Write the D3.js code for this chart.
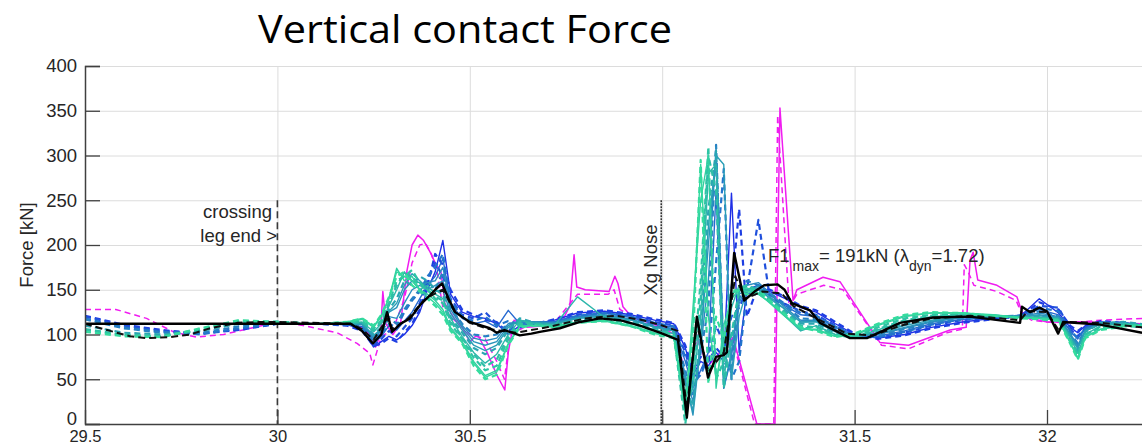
<!DOCTYPE html>
<html>
<head>
<meta charset="utf-8">
<script src="https://cdn.jsdelivr.net/npm/d3@7"></script>
<style>
  html, body { margin: 0; padding: 0; background: #fff; }
  svg { display: block; }
  text { font-family: "Liberation Sans", Arial, sans-serif; fill: #262626; }
</style>
</head>
<body>
<svg id="chart" width="1142" height="448"></svg>
<script>
// ---- axis ticks ----
const xTicks = [29.5, 30, 30.5, 31, 31.5, 32];
const yTicks = [0, 50, 100, 150, 200, 250, 300, 350, 400];

// ---- shared position grid for the simulation runs [m] ----
const xGrid = [
  29.50, 29.60, 29.70, 29.80, 29.90, 30.00,
  30.10, 30.18, 30.22,
  30.25, 30.27, 30.29, 30.31, 30.33, 30.35, 30.37, 30.39, 30.41, 30.43, 30.45,
  30.48, 30.51, 30.54, 30.57, 30.60, 30.63, 30.67,
  30.72, 30.78, 30.85, 30.92, 30.98, 31.03,
  31.06, 31.08, 31.10, 31.12, 31.14, 31.16, 31.18, 31.20, 31.22, 31.25, 31.28, 31.32, 31.36,
  31.40, 31.45, 31.50, 31.56, 31.63, 31.70, 31.78, 31.86, 31.93, 31.98, 32.03, 32.06, 32.08, 32.10, 32.14, 32.20, 32.26
];

// ---- simulation runs, vertical force [kN], ordered blue -> green ----
const run01 = [112,112,112,112,112,112, 112,111,106,
  86,92,98,94,100,110,125,150,170,205,145, 125,120,118,112,100,110,112,
  116,124,126,122,116,112, 85,55,70,65,80,70,258,80,150,155,148,140,130,
  125,112,100,96,100,108,114,118,120,140,124,108,102,110,114,112,108];
const run02 = [121,111,105,101,105,112, 112,110,104,
  87,90,96,92,102,112,128,155,190,178,150, 128,122,116,114,102,108,112,
  117,125,127,123,117,113, 88,60,75,70,85,75,150,240,120,155,150,142,132,
  127,114,101,95,99,107,113,117,120,136,128,110,104,110,115,113,108];
const run03 = [120,110,104,101,106,112, 112,111,108,
  88,95,104,98,108,118,135,160,180,165,140, 122,118,125,112,104,112,113,
  115,122,125,121,114,110, 80,50,60,70,110,90,120,130,150,228,140,134,126,
  122,110,99,97,102,110,116,119,121,132,130,106,98,108,113,111,107];
const run04 = [112,112,112,112,112,112, 112,111,109,
  90,98,110,105,115,125,140,155,165,185,135, 118,112,115,108,127,112,114,
  114,120,124,119,112,108, 70,40,60,80,260,40,75,150,145,150,144,132,122,
  120,108,99,98,104,112,117,119,121,128,122,104,95,108,114,112,109];
const run05 = [118,108,103,100,107,112, 112,111,108,
  92,100,112,108,125,138,148,165,175,190,138, 120,115,120,110,115,112,113,
  114,121,124,120,113,109, 75,45,55,75,180,285,50,70,148,152,146,134,124,
  121,109,99,97,103,111,117,120,121,130,126,105,96,107,113,112,108];
const run06 = [117,107,102,102,109,113, 112,112,110,
  94,102,118,112,128,140,150,160,150,170,130, 112,100,98,100,112,113,114,
  113,119,122,117,110,106, 60,30,80,130,312,70,60,140,160,155,146,132,118,
  117,106,98,99,106,113,118,120,120,126,120,102,90,106,113,113,110];
const run07 = [112,112,112,112,112,112, 112,112,111,
  96,104,120,118,135,150,155,158,160,175,132, 110,96,93,96,112,114,114,
  113,119,122,117,109,105, 55,25,85,160,310,80,55,135,155,158,146,130,116,
  116,105,98,100,107,114,119,120,120,124,120,101,88,105,113,113,110];
const run08 = [112,112,112,112,112,112, 112,112,112,
  98,105,125,130,150,160,158,150,155,160,128, 108,92,88,92,110,115,114,
  112,118,121,116,109,104, 50,10,90,200,300,40,80,145,150,152,140,128,114,
  115,104,98,101,108,115,119,120,120,122,119,100,86,104,112,112,110];
const run09 = [112,112,112,112,112,112, 112,112,112,
  99,106,126,135,155,168,160,152,148,150,124, 105,88,82,88,108,116,113,
  112,118,121,116,108,104, 45,15,95,220,300,290,50,120,150,154,142,128,114,
  114,103,98,102,110,116,120,121,120,121,118,99,84,104,112,113,110];
const run10 = [110,102,100,104,112,114, 112,112,113,
  100,108,128,140,160,155,165,160,150,145,120, 102,85,78,85,105,118,113,
  111,117,120,115,107,103, 40,20,100,240,305,60,90,150,155,150,140,126,112,
  112,102,97,103,112,118,121,121,120,120,118,98,82,103,113,114,111];
const run11 = [112,112,112,112,112,112, 112,113,114,
  103,112,132,150,170,160,150,155,145,140,118, 98,80,68,78,100,116,112,
  110,142,119,113,105,101, 20,40,120,280,290,45,130,155,150,145,136,120,104,
  110,100,97,105,115,120,122,121,119,119,117,96,80,100,110,112,110];
const run12 = [106,100,98,105,114,114, 112,113,114,
  104,114,134,155,168,165,155,150,142,138,115, 96,78,64,72,98,114,112,
  110,116,119,113,105,101, 15,50,140,300,260,40,100,150,152,147,137,122,106,
  109,99,97,106,116,121,122,121,119,118,117,95,78,100,109,111,110];
const run13 = [105,99,98,106,115,114, 112,113,115,
  106,116,135,160,165,172,158,150,140,135,112, 95,74,60,65,95,112,111,
  110,115,118,112,104,100, 0,60,160,310,50,70,145,152,155,148,138,124,110,
  108,99,98,108,118,122,123,121,119,118,117,94,76,100,108,111,110];
const run14 = [112,112,112,112,112,112, 112,113,117,
  108,120,140,174,160,165,150,145,138,128,108, 92,70,54,60,90,110,110,
  109,114,116,110,102,98, 10,130,250,300,40,110,140,150,152,146,135,120,106,
  106,98,99,110,120,124,124,122,119,118,116,92,74,98,106,110,110];
const run15 = [112,112,112,112,112,112, 112,114,118,
  109,121,141,170,165,160,150,142,135,125,106, 91,68,52,58,89,109,110,
  108,113,115,109,101,97, 20,110,290,120,50,90,145,150,148,145,136,121,107,
  105,98,100,111,121,124,124,121,119,118,116,91,73,97,106,110,110];
const run16 = [103,98,97,107,116,114, 112,114,118,
  110,122,142,165,170,155,148,140,132,122,104, 90,65,50,55,88,108,110,
  108,113,115,109,100,96, 30,95,295,45,120,95,150,148,145,150,138,122,108,
  104,97,101,112,122,125,124,121,118,117,115,90,72,96,105,109,109];

const runColors = ["#1f2fe6", "#1e3ee2", "#2050dc", "#2468d0", "#2274cc", "#2680c4", "#2b8cc0", "#2894bb",
                   "#2a9eb6", "#2aa6b2", "#2cb6aa", "#2dbea7", "#2ec4a4", "#30d0a0", "#32d69f", "#34dc9e"];
const runDashed = [false, true, true, false, true, true, false, false,
                   false, true, false, true, true, false, false, true];

// ---- reference run (magenta), solid and dashed ----
const magSolidX = [29.50, 30.19, 30.23, 30.255, 30.268, 30.274, 30.282, 30.30, 30.32, 30.337, 30.35, 30.365, 30.38, 30.397,
  30.41, 30.425, 30.435, 30.46, 30.48, 30.50, 30.52, 30.545, 30.57, 30.591, 30.60, 30.615, 30.65, 30.70, 30.74, 30.76,
  30.771, 30.778, 30.80, 30.862, 30.877, 30.885, 30.898, 30.92, 30.96, 31.00, 31.04, 31.064, 31.09, 31.12, 31.15, 31.184,
  31.246, 31.293, 31.306, 31.34, 31.35, 31.418, 31.462, 31.566, 31.64, 31.748, 31.79, 31.80, 31.808, 31.82, 31.87,
  31.922, 31.935, 31.96, 32.00, 32.10, 32.247];
const magSolidY = [112, 112, 106, 86, 100, 148, 112, 100, 112, 172, 200, 211, 205, 192,
  180, 170, 135, 118, 108, 92, 100, 80, 55, 38, 80, 116, 108, 110, 115, 132,
  189, 153, 150, 148, 165, 157, 131, 120, 114, 108, 98, 40, 100, 60, 75, 97,
  0, 0, 353, 138, 150, 164, 159, 91, 88, 105, 108, 183, 192, 161, 155,
  142, 125, 118, 114, 114, 112];
const magDashX = [29.50, 29.58, 29.66, 29.73, 29.79, 29.86, 29.93, 30.00, 30.067, 30.155, 30.207, 30.24, 30.248, 30.258,
  30.27, 30.30, 30.33, 30.35, 30.37, 30.385, 30.40, 30.415, 30.43, 30.46, 30.50, 30.54, 30.57, 30.59, 30.605, 30.65,
  30.72, 30.78, 30.86, 30.875, 30.89, 30.93, 31.00, 31.04, 31.064, 31.09, 31.12, 31.15, 31.18, 31.24, 31.29, 31.30,
  31.33, 31.35, 31.42, 31.47, 31.57, 31.64, 31.74, 31.78, 31.785, 31.795, 31.81, 31.87, 31.92, 31.935, 31.96, 32.00,
  32.06, 32.14, 32.247];
const magDashY = [128, 128, 118, 103, 97, 100, 107, 114, 110, 102, 90, 79, 66, 80,
  98, 105, 140, 180, 200, 202, 190, 170, 130, 116, 100, 95, 70, 50, 100, 110,
  113, 145, 145, 150, 128, 118, 110, 100, 35, 95, 65, 80, 100, 0, 0, 345,
  130, 145, 155, 150, 88, 84, 102, 106, 178, 170, 155, 148, 138, 122, 116, 114,
  113, 116, 118];

// ---- mean response (black), solid and dashed ----
const blackSolidX = [29.50, 30.19, 30.22, 30.248, 30.27, 30.285, 30.298, 30.32, 30.345, 30.371, 30.397, 30.41, 30.428,
  30.445, 30.462, 30.50, 30.552, 30.57, 30.59, 30.63, 30.66, 30.682, 30.734, 30.786, 30.838, 30.89, 30.942, 30.994,
  31.041, 31.064, 31.09, 31.119, 31.14, 31.16, 31.168, 31.187, 31.213, 31.24, 31.265, 31.30, 31.318, 31.337, 31.384, 31.41,
  31.488, 31.532, 31.618, 31.704, 31.80, 31.93, 31.935, 31.956, 31.98, 32.00, 32.029, 32.042, 32.138, 32.247];
const blackSolidY = [112, 112, 104, 90, 100, 125, 103, 112, 118, 133, 144, 150, 157,
  140, 125, 114, 107, 102, 105, 99, 101, 103, 107, 114, 118, 116, 110, 102,
  94, 7, 120, 52, 75, 77, 80, 191, 138, 148, 155, 156, 150, 135, 127, 113,
  96, 96, 113, 119, 120, 113, 131, 125, 130, 126, 101, 114, 111, 102];
const blackDashX = [29.50, 29.54, 29.617, 29.66, 29.72, 29.773, 29.825, 29.895, 29.947, 30.00, 30.19, 30.22, 30.25,
  30.285, 30.30, 30.34, 30.38, 30.41, 30.43, 30.46, 30.50, 30.55, 30.62, 30.70, 30.80, 30.88, 30.95, 31.00, 31.04,
  31.064, 31.09, 31.12, 31.16, 31.19, 31.215, 31.26, 31.31, 31.34, 31.40, 31.48, 31.55, 31.62, 31.70, 31.80, 31.93,
  31.95, 32.00, 32.03, 32.05, 32.14, 32.247];
const blackDashY = [112, 107, 98, 96, 97, 100, 107, 113, 114, 114, 112, 106, 94,
  118, 106, 118, 138, 146, 150, 126, 113, 106, 102, 108, 118, 121, 116, 110, 104,
  18, 112, 58, 80, 165, 140, 148, 146, 132, 118, 101, 99, 110, 118, 121, 116,
  126, 125, 105, 114, 113, 108];

// ---- layout ----
const svg = d3.select("#chart");
const W = 1142, H = 448;
const plotLeft = 85, plotTop = 66, plotBottom = 424;

const x = d3.scaleLinear().domain([29.5, 32]).range([plotLeft, 1047]);
const y = d3.scaleLinear().domain([0, 400]).range([plotBottom, plotTop]);

svg.append("rect").attr("width", W).attr("height", H).attr("fill", "#fff");

svg.append("defs").append("clipPath").attr("id", "plot")
  .append("rect").attr("x", plotLeft).attr("y", plotTop - 2)
  .attr("width", W - plotLeft).attr("height", plotBottom - plotTop + 2);

// grid
const grid = svg.append("g").attr("stroke", "#dcdcdc").attr("stroke-width", 1);
grid.selectAll("line.h").data(yTicks).join("line")
  .attr("x1", plotLeft).attr("x2", W).attr("y1", d => y(d) + 0.5).attr("y2", d => y(d) + 0.5);
grid.selectAll("line.v").data(xTicks.slice(1)).join("line")
  .attr("y1", plotTop).attr("y2", plotBottom).attr("x1", d => x(d) + 0.5).attr("x2", d => x(d) + 0.5);

// marker lines: crossing leg end and Xg nose
svg.append("line").attr("x1", x(30)).attr("x2", x(30)).attr("y1", y(250)).attr("y2", plotBottom)
  .attr("stroke", "#3a3a3a").attr("stroke-width", 1.6).attr("stroke-dasharray", "7,4");
svg.append("line").attr("x1", x(31) - 1).attr("x2", x(31) - 1).attr("y1", y(250)).attr("y2", plotBottom)
  .attr("stroke", "#1a1a1a").attr("stroke-width", 1.4).attr("stroke-dasharray", "2,1");

const plot = svg.append("g").attr("clip-path", "url(#plot)");
const line = d3.line().x(d => x(d[0])).y(d => y(d[1]));

function drawSeries(xs, ys, color, width, dash) {
  plot.append("path")
    .datum(xs.map((v, i) => [v, ys[i]]))
    .attr("fill", "none")
    .attr("stroke", color)
    .attr("stroke-width", width)
    .attr("stroke-linejoin", "round")
    .attr("stroke-dasharray", dash || null)
    .attr("d", line);
}

// reference run below the bundle
drawSeries(magSolidX, magSolidY, "#f01cf0", 1.5);
drawSeries(magDashX, magDashY, "#f01cf0", 1.5, "6,4");

const runs = [run01, run02, run03, run04, run05, run06, run07, run08,
              run09, run10, run11, run12, run13, run14, run15, run16];
runs.forEach((r, k) => {
  drawSeries(xGrid, r, runColors[k], runDashed[k] ? 2.2 : 1.4, runDashed[k] ? "6,4" : null);
});

drawSeries(blackDashX, blackDashY, "#111", 2, "7,4");
drawSeries(blackSolidX, blackSolidY, "#000", 2.4);

// axes
const yAxis = d3.axisLeft(y).tickValues(yTicks).tickSize(-15).tickPadding(8);
const xAxis = d3.axisBottom(x).tickValues(xTicks).tickSize(-14).tickPadding(6)
  .tickFormat(d3.format("~g"));

const gy = svg.append("g").attr("transform", `translate(${plotLeft},0)`).call(yAxis);
const gx = svg.append("g").attr("transform", `translate(0,${plotBottom})`).call(xAxis);
[gy, gx].forEach(g => {
  g.select(".domain").attr("stroke", "#404040").attr("stroke-width", 1.5);
  g.selectAll(".tick line").attr("stroke", "#404040").attr("stroke-width", 1.3);
  g.selectAll(".tick text").attr("fill", "#262626")
    .style("font-family", "'Liberation Sans', Arial, sans-serif");
});
gy.selectAll(".tick text").attr("font-size", 18.5);
// lift the lowest y label a little so it clears the first x label
gy.selectAll(".tick text").filter(d => d === 0).attr("y", -5);
gx.selectAll(".tick text").attr("font-size", 16.5);
gx.select(".domain").attr("d", `M${plotLeft},0.5H${W}`);

// axis label
svg.append("text")
  .attr("transform", `translate(33,245) rotate(-90)`)
  .attr("text-anchor", "middle")
  .attr("font-size", 18.5)
  .text("Force [kN]");

// annotations
const ann = svg.append("g").attr("font-size", 18.5);
ann.append("text").attr("x", 272).attr("y", 218).attr("text-anchor", "end").text("crossing");
ann.append("text").attr("x", 277).attr("y", 242).attr("text-anchor", "end").text("leg end >");
ann.append("text").attr("transform", `translate(657,260) rotate(-90)`).attr("text-anchor", "middle").text("Xg Nose");

const f1 = ann.append("text").attr("x", 768).attr("y", 262);
f1.append("tspan").text("F1");
f1.append("tspan").attr("font-size", 14).attr("dy", 9).attr("dx", 3).text("max");
f1.append("tspan").attr("dy", -9).text("= 191kN (");
f1.append("tspan").text("λ");
f1.append("tspan").attr("font-size", 14).attr("dy", 9).text("dyn");
f1.append("tspan").attr("dy", -9).text("=1.72)");

// title
svg.append("text")
  .attr("x", 258).attr("y", 43)
  .attr("font-size", 38)
  .attr("textLength", 414)
  .attr("lengthAdjust", "spacingAndGlyphs")
  .style("font-family", "'Open Sans', 'Liberation Sans', sans-serif")
  .style("fill", "#000")
  .text("Vertical contact Force");
</script>
</body>
</html>
